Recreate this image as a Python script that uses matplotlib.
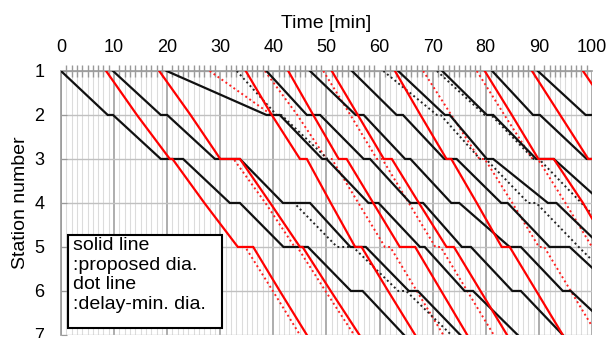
import numpy as np
import matplotlib as mpl
mpl.use('Agg')
import matplotlib.pyplot as plt
from matplotlib.ticker import MultipleLocator
from matplotlib.patches import Rectangle

plt.rcParams['font.family'] = ['Liberation Sans', 'DejaVu Sans']

# train paths: (time [min], station)
black_solid = [
    [(0, 1), (8.8, 2), (9.8, 2), (18.8, 3), (23, 3), (31.8, 4), (33.7, 4), (41.9, 5), (46.5, 5), (54.6, 6), (56.8, 6), (64.6, 7)],
    [(9.8, 1), (18.8, 2), (20, 2), (29, 3), (33.7, 3), (41.8, 4), (46.9, 4), (54.5, 5), (57.4, 5), (65.5, 6), (67.2, 6), (75.2, 7)],
    [(19.9, 1), (38.7, 2), (41.2, 2), (49.2, 3), (50, 3), (57.9, 4), (59.8, 4), (67.6, 5), (68.5, 5), (76, 6), (77.6, 6), (86, 7)],
    [(38.7, 1), (46.3, 2), (48.8, 2), (57, 3), (58.2, 3), (65.8, 4), (68.2, 4), (75.5, 5), (77.2, 5), (85, 6), (86.6, 6), (94.5, 7)],
    [(46.9, 1), (55.5, 2), (57, 2), (64.8, 3), (65.8, 3), (73.5, 4), (75, 4), (84.5, 5), (86.6, 5), (94.5, 6), (96, 6), (100, 6.45)],
    [(54.8, 1), (63.2, 2), (64.4, 2), (72.2, 3), (74.5, 3), (82.9, 4), (84.1, 4), (92, 5), (95.8, 5), (100, 5.47)],
    [(63.5, 1), (72.3, 2), (73.2, 2), (80.2, 3), (81.4, 3), (91.7, 4), (93.3, 4), (100, 4.78)],
    [(71.8, 1), (80.2, 2), (81.4, 2), (89.5, 3), (92.8, 3), (100, 3.78)],
    [(81.2, 1), (88.9, 2), (90.2, 2), (99, 3), (100, 3)],
    [(89.8, 1), (98.8, 2), (100, 2)],
]

red_solid = [
    [(8.5, 1), (14.3, 2), (20.5, 3), (21, 3), (27, 4), (33.3, 5), (36.2, 5), (41.2, 6), (46.3, 7)],
    [(18.5, 1), (24.4, 2), (30, 3), (33.7, 3), (39.4, 4), (45, 5), (45.5, 5), (50.8, 6), (56.2, 7)],
    [(34.8, 1), (39.7, 2), (45, 3), (46.3, 3), (50.8, 4), (55.4, 5), (56.6, 5), (61.6, 6), (66.7, 7)],
    [(42.8, 1), (47.5, 2), (52.3, 3), (53.8, 3), (58.8, 4), (63.8, 5), (66.7, 5), (71.6, 6), (76.5, 7)],
    [(51, 1), (55.9, 2), (60.8, 3), (62.3, 3), (67.4, 4), (72.6, 5), (74, 5), (79, 6), (84, 7)],
    [(62.9, 1), (67.7, 2), (72.6, 3), (73.5, 3), (78.3, 4), (83, 5), (84.5, 5), (89.5, 6), (94.5, 7)],
    [(79.8, 1), (84.9, 2), (89.9, 3), (92.8, 3), (98.3, 4), (100, 4.35)],
    [(88.7, 1), (94, 2), (99.3, 3), (100, 3)],
    [(98.3, 1), (100, 1.3)],
]

black_dot = [
    [(33.1, 1), (40.6, 2), (41.5, 2), (50.2, 3)],
    [(41.8, 4), (43.9, 4), (52, 5), (55, 5), (63.5, 6), (65, 6), (73.5, 7)],
    [(60.7, 1), (70.8, 2), (71.5, 2), (78.9, 3), (80, 3), (88, 4), (89.5, 4), (97.5, 5), (100, 5.3)],
    [(70.8, 1), (79.8, 2), (81, 2), (89, 3), (90, 3), (98, 4), (100, 4.25)],
]

red_dot = [
    [(28, 1), (39.7, 2)],
    [(30, 3), (32.5, 3), (38.5, 4), (44, 5), (44.5, 5), (49.8, 6), (55.2, 7)],
    [(33.3, 5), (34.7, 5), (39.9, 6), (45, 7)],
    [(38.4, 1), (44.5, 2), (50, 3), (51, 3), (56, 4), (61, 5), (62, 5), (67, 6), (72, 7)],
    [(49.4, 1), (54.5, 2), (59.5, 3), (60.5, 3), (65.5, 4), (70.5, 5), (71.5, 5), (76.5, 6), (81.5, 7)],
    [(68.2, 1), (73.5, 2), (78.8, 3), (79.8, 3), (85, 4), (90, 5), (91, 5), (96, 6), (100, 6.8)],
    [(78.3, 1), (83.5, 2), (88.8, 3), (89.8, 3), (95, 4), (100, 5)],
]

legend_lines = ["solid line", ":proposed dia.", "dot line", ":delay-min. dia."]

fig = plt.figure(figsize=(6.08, 3.38), dpi=100)
ax = fig.add_axes([0.1003, 0.009, 0.8734, 0.781])

for tr in red_dot:
    t, s = zip(*tr)
    ax.plot(t, s, color='#ff2020', lw=1.4, ls=(0, (1, 1.5)), zorder=3)
for tr in black_dot:
    t, s = zip(*tr)
    ax.plot(t, s, color='#222222', lw=1.4, ls=(0, (1, 1.5)), zorder=3)
for tr in black_solid:
    t, s = zip(*tr)
    ax.plot(t, s, color='#111111', lw=1.6, zorder=4, solid_joinstyle='miter')
for tr in red_solid:
    t, s = zip(*tr)
    ax.plot(t, s, color='#ff0000', lw=1.6, zorder=5, solid_joinstyle='miter')

ax.set_xlim(0, 100)
ax.set_ylim(7, 1)
ax.xaxis.set_major_locator(MultipleLocator(10))
ax.xaxis.set_minor_locator(MultipleLocator(1))
ax.yaxis.set_major_locator(MultipleLocator(1))
ax.xaxis.tick_top()
ax.xaxis.set_label_position('top')
ax.grid(which='minor', axis='x', color='#dcdcdc', lw=0.8)
ax.grid(which='major', axis='x', color='#a0a0a0', lw=1.2)
ax.grid(which='major', axis='y', color='#c0c0c0', lw=1.0)
ax.set_axisbelow(True)
ax.tick_params(axis='x', which='major', direction='inout', length=0, labelsize=13, pad=11, colors='#000000')
ax.tick_params(axis='x', which='minor', direction='inout', length=8, width=1, color='#999999')
ax.tick_params(axis='y', which='major', direction='in', length=4, color='#999999', labelsize=13, pad=12)
for side in ['bottom', 'right']:
    ax.spines[side].set_visible(False)
for side in ['top', 'left']:
    ax.spines[side].set_color('#999999')
    ax.spines[side].set_linewidth(1.2)

ax.set_xlabel('Time [min]', fontsize=14, labelpad=8)
ax.set_ylabel('Station number', fontsize=14, labelpad=4)

ax.add_patch(Rectangle((1.3, 4.73), 29.0, 2.11, fc='white', ec='black', lw=1.5, zorder=9))
ax.text(2.3, 4.78, "\n".join(legend_lines), fontsize=14, va='top', ha='left',
        linespacing=1.2, zorder=10)

fig.savefig('out.png', dpi=100)
